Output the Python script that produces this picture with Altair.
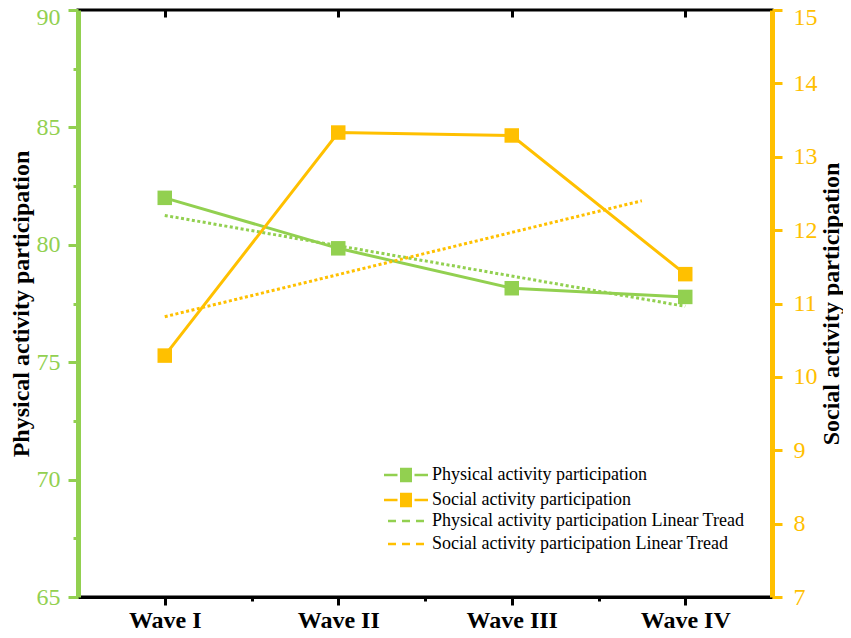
import altair as alt
import pandas as pd

# ---------------- data ----------------
waves = ["Wave I", "Wave II", "Wave III", "Wave IV"]
wave_idx = [0, 1, 2, 3]
physical = [82.0, 79.85, 78.15, 77.78]
social = [10.29, 13.33, 13.29, 11.40]

# linear trend end points as drawn in the figure
phys_trend_x = [0, 3]
phys_trend_y = [81.25, 77.38]
soc_trend_x = [0, 2.75]
soc_trend_y = [10.82, 12.40]

series_names = ["Physical activity participation", "Social activity participation"]
trend_names = ["Physical activity participation Linear Tread",
               "Social activity participation Linear Tread"]

x_ticks = [0, 0.5, 1, 1.5, 2, 2.5, 3]
left_ticks = [65, 67.5, 70, 72.5, 75, 77.5, 80, 82.5, 85, 87.5, 90]
right_ticks = [7, 7.5, 8, 8.5, 9, 9.5, 10, 10.5, 11, 11.5, 12, 12.5, 13, 13.5, 14, 14.5, 15]

GREEN = "#92D050"
ORANGE = "#FFC000"
FONT = "Liberation Serif"

W, H = 694, 587

phys_df = pd.DataFrame({"idx": wave_idx, "val": physical, "series": series_names[0]})
soc_df = pd.DataFrame({"idx": wave_idx, "val": social, "series": series_names[1]})
phys_tr = pd.DataFrame({"idx": phys_trend_x, "val": phys_trend_y, "trend": trend_names[0]})
soc_tr = pd.DataFrame({"idx": soc_trend_x, "val": soc_trend_y, "trend": trend_names[1]})

wave_js = "[" + ",".join("'" + w + "'" for w in waves) + "]"

x_scale = alt.Scale(domain=[-0.5, 3.5], nice=False, zero=False)

x_axis_bottom = alt.Axis(
    orient="bottom", values=x_ticks,
    labelExpr="datum.value % 1 === 0 ? " + wave_js + "[datum.value] : ''",
    tickSize={"condition": {"test": "datum.value % 1 === 0", "value": 8}, "value": 4},
    tickColor="black", tickWidth=3, domainColor="black", domainWidth=3,
    labelFont=FONT, labelFontSize=24, labelFontWeight="bold", labelColor="black",
    labelPadding=3, grid=False, title=None,
)
x_axis_top = alt.Axis(
    orient="bottom", offset=-H, values=[0, 1, 2, 3], labels=False,
    tickSize=7, tickColor="black", tickWidth=3, domain=False, grid=False, title=None,
)

color_scale = alt.Scale(domain=series_names, range=[GREEN, ORANGE])
stroke_scale = alt.Scale(domain=trend_names, range=[GREEN, ORANGE])

# custom legend symbol: line - filled square - line (square built from stroked hatch lines)
hatch = "".join("M-1.2,%.2fH1.2" % (y / 100) for y in range(-120, 121, 24))
sym_line_sq = "M-4.4,0H-1.7M1.7,0H4.4" + hatch

color_legend = alt.Legend(
    orient="none", legendX=319, legendY=456, title=None,
    symbolType=sym_line_sq, symbolSize=100, symbolStrokeWidth=2.5,
    labelFont=FONT, labelFontSize=18, labelColor="black", labelOffset=17,
    labelLimit=500, rowPadding=3, padding=0,
)
stroke_legend = alt.Legend(
    orient="none", legendX=319, legendY=502, title=None,
    symbolType="M-3.6,0H3.6", symbolSize=100, symbolStrokeWidth=2.5, symbolDash=[8, 6],
    labelFont=FONT, labelFontSize=18, labelColor="black", labelOffset=17,
    labelLimit=500, rowPadding=5, padding=0,
)

left_axis = alt.Axis(
    orient="left", values=left_ticks,
    labelExpr="datum.value % 5 === 0 ? datum.label : ''",
    tickSize={"condition": {"test": "datum.value % 5 === 0", "value": 10}, "value": 5},
    labelOffset={"condition": {"test": "datum.value === 90", "value": 7}, "value": 0},
    tickColor=GREEN, tickWidth=3, domainColor=GREEN, domainWidth=5,
    labelColor=GREEN, labelFont=FONT, labelFontSize=24, labelPadding=8,
    title="Physical activity participation", titleFont=FONT, titleFontSize=24,
    titleFontWeight="bold", titleColor="black", titlePadding=3, grid=False,
)
right_axis = alt.Axis(
    orient="right", values=right_ticks,
    labelExpr="datum.value % 1 === 0 ? format(datum.value, 'd') : ''",
    tickSize={"condition": {"test": "datum.value % 1 === 0", "value": 10}, "value": 5},
    labelOffset={"condition": {"test": "datum.value === 15", "value": 7}, "value": 0},
    tickColor=ORANGE, tickWidth=3, domainColor=ORANGE, domainWidth=5,
    labelColor=ORANGE, labelFont=FONT, labelFontSize=24, labelPadding=11,
    title="Social activity participation", titleFont=FONT, titleFontSize=24,
    titleFontWeight="bold", titleColor="black", titlePadding=26, titleAngle=270,
    grid=False,
)

y_left = alt.Scale(domain=[65, 90], nice=False, zero=False)
y_right = alt.Scale(domain=[7, 15], nice=False, zero=False)

phys_line = alt.Chart(phys_df).mark_line(strokeWidth=3).encode(
    x=alt.X("idx:Q", scale=x_scale, axis=x_axis_bottom),
    y=alt.Y("val:Q", scale=y_left, axis=left_axis),
    color=alt.Color("series:N", scale=color_scale, legend=color_legend),
)
phys_pts = alt.Chart(phys_df).mark_square(size=210, color=GREEN, opacity=1, filled=True).encode(
    x=alt.X("idx:Q", scale=x_scale),
    y=alt.Y("val:Q", scale=y_left),
)
phys_trend = alt.Chart(phys_tr).mark_line(strokeWidth=3, strokeDash=[3, 2.5]).encode(
    x=alt.X("idx:Q", scale=x_scale),
    y=alt.Y("val:Q", scale=y_left),
    stroke=alt.Stroke("trend:N", scale=stroke_scale, legend=stroke_legend),
)

soc_line = alt.Chart(soc_df).mark_line(strokeWidth=3).encode(
    x=alt.X("idx:Q", scale=x_scale, axis=x_axis_top),
    y=alt.Y("val:Q", scale=y_right, axis=right_axis),
    color=alt.Color("series:N", scale=color_scale, legend=color_legend),
)
soc_pts = alt.Chart(soc_df).mark_square(size=210, color=ORANGE, opacity=1, filled=True).encode(
    x=alt.X("idx:Q", scale=x_scale),
    y=alt.Y("val:Q", scale=y_right),
)
soc_trend = alt.Chart(soc_tr).mark_line(strokeWidth=3, strokeDash=[3, 2.5]).encode(
    x=alt.X("idx:Q", scale=x_scale),
    y=alt.Y("val:Q", scale=y_right),
    stroke=alt.Stroke("trend:N", scale=stroke_scale, legend=stroke_legend),
)

left = alt.layer(phys_trend, phys_line, phys_pts)
right = alt.layer(soc_trend, soc_line, soc_pts)

chart = (
    alt.layer(left, right)
    .resolve_scale(y="independent")
    .resolve_axis(x="independent", y="independent")
    .properties(
        width=W, height=H,
        autosize=alt.AutoSizeParams(type="none"),
        padding={"left": 70, "top": 2, "right": 71, "bottom": 40},
        background="white",
    )
    .configure_view(stroke="black", strokeWidth=3)
)

chart.save("out.html", embed_options={"renderer": "svg", "actions": False})
